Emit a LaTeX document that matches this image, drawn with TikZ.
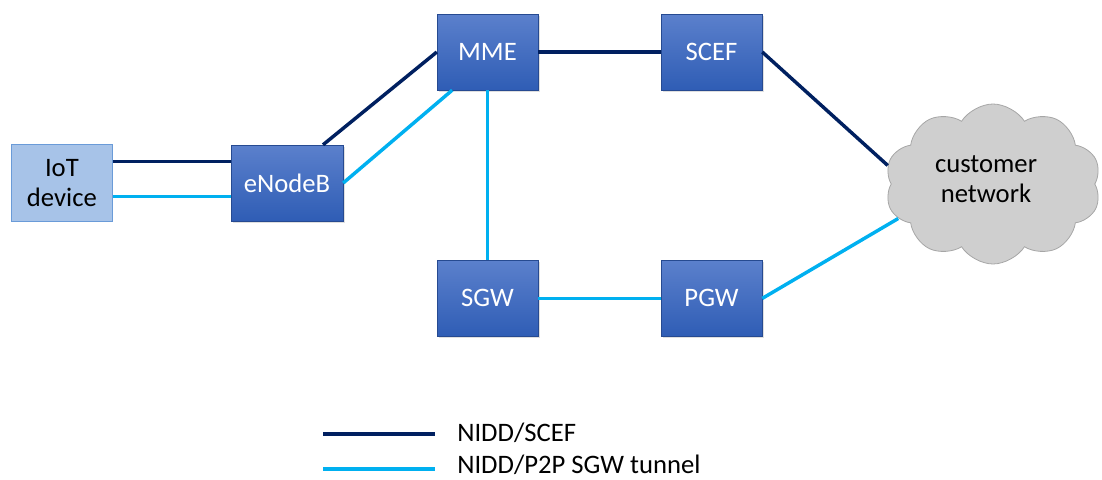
\documentclass[tikz,border=0pt]{standalone}
\usepackage{fontspec}
\setmainfont{Carlito}
\usetikzlibrary{positioning,shapes.symbols,shadows}
\definecolor{navyline}{HTML}{002060}
\definecolor{skyline}{HTML}{00B0F0}
\definecolor{boxtop}{HTML}{5B80CC}
\definecolor{boxbot}{HTML}{2F5DB5}
\definecolor{devfill}{HTML}{A7C3E8}
\definecolor{devline}{HTML}{6A9BD8}

\begin{document}
\begin{tikzpicture}[x=0.75pt, y=-0.75pt, node distance=92pt,
		box/.style={rectangle, top color=boxtop, bottom color=boxbot, draw=boxbot!80!black, line width=0.3pt,
			text=white, minimum width=75.75pt, minimum height=57pt, align=center, font=\fontsize{20}{23}\selectfont,
			drop shadow={opacity=0.25, shadow xshift=1.2pt, shadow yshift=-1.2pt}},
		dev/.style={rectangle, fill=devfill, draw=devline, line width=0.6pt,
			minimum width=75.75pt, minimum height=57.5pt, align=center, font=\fontsize{20}{23}\selectfont},
		net/.style={cloud, cloud puffs=10, cloud puff arc=115, cloud ignores aspect, fill=black!19, draw=black!35,
			line width=0.6pt, minimum width=162pt, minimum height=120pt, align=center, font=\fontsize{20}{23}\selectfont},
		dark/.style={draw=navyline, line width=2.6pt},
		light/.style={draw=skyline, line width=2.6pt},
		legtext/.style={anchor=base west, inner sep=0pt, font=\fontsize{20}{23}\selectfont}]
		\useasboundingbox (0,0) rectangle (1102,479);

		\node[box] (MME) at (487.5,52) {MME};
		\node[box, right=of MME] (SCEF) {SCEF};
		\node[box, below=127.5pt of MME] (SGW) {SGW};
		\node[box, right=of SGW] (PGW) {PGW};
		\node[box, minimum width=84pt] (eNB) at (287,183) {eNodeB};
		\node[dev, left=88.5pt of eNB] (IoT) {IoT\\device};
		\node[net] (cust) at (993,184) {};
		\node[align=center, font=\fontsize{20}{23}\selectfont] (custtext) at (986,179) {customer\\network};

		\path ([yshift=16pt]IoT.east) edge[dark] ([yshift=16pt]eNB.west);
		\path ([yshift=-10pt]IoT.east) edge[light] ([yshift=-10pt]eNB.west);
		\path ([xshift=27pt]eNB.north) edge[dark] (MME.west);
		\path (eNB.east) edge[light] ([xshift=-26.5pt]MME.south);
		\path (MME) edge[dark] (SCEF);
		\path (MME) edge[light] (SGW);
		\path (SGW) edge[light] (PGW);
		\path (SCEF.east) edge[dark] (cust.170);
		\path (PGW.east) edge[light] (cust.200);

		% legend
		\coordinate (legA) at (323,434);
		\coordinate (legB) at (435,434);
		\coordinate (legC) at (323,469);
		\coordinate (legD) at (435,469);
		\path (legA) edge[dark] (legB);
		\path (legC) edge[light] (legD);
		\node[legtext] (legSCEF) at (457,441) {NIDD/SCEF};
		\node[legtext] (legP2P) at (457,473) {NIDD/P2P SGW tunnel};
	\end{tikzpicture}
\end{document}
